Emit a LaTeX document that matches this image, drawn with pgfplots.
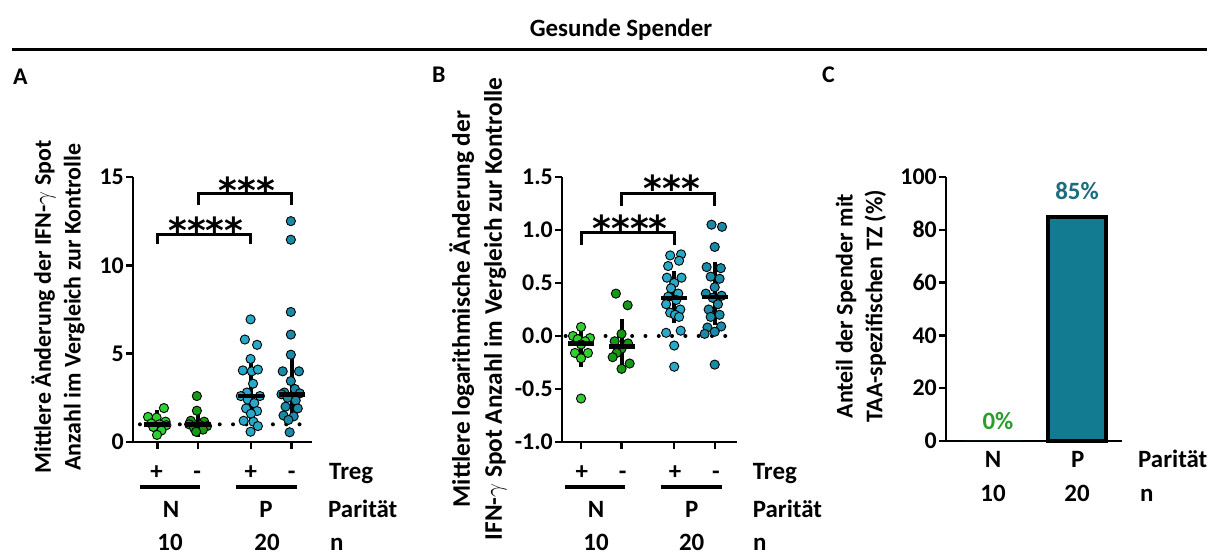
\documentclass[border=0pt]{standalone}
\usepackage{pgfplots}
\pgfplotsset{compat=1.18}
\usepackage{fontspec}
\setmainfont{Carlito}
\newfontfamily\djv{DejaVu Sans}
\definecolor{gA}{HTML}{2ECF2E}
\definecolor{gB}{HTML}{159A15}
\definecolor{tA}{HTML}{2AA8C7}
\definecolor{tB}{HTML}{1A8AA7}
\definecolor{barC}{HTML}{137B91}
\definecolor{txtC}{HTML}{1A6D7F}
\definecolor{txtG}{HTML}{2A9E2A}
\newcommand{\F}{\bfseries\fontsize{25}{30}\selectfont}
\newcommand{\Ft}{\bfseries\fontsize{24}{30}\selectfont}
\newcommand{\Fy}{\bfseries\fontsize{24}{30}\selectfont}
\newcommand{\Fyb}{\bfseries\fontsize{25.4}{32}\selectfont}
\newcommand{\Fs}{\djv\bfseries\fontsize{36}{36}\selectfont}
\pgfplotsset{
  pan/.style={
    scale only axis, anchor=south west, clip=false,
    axis x line*=bottom, axis y line*=left,
    axis line style={line width=2.6bp, black},
    every tick/.style={line width=2.4bp, black},
    major tick length=7bp, tick align=outside,
    tick label style={font=\Ft},
    /pgf/number format/assume math mode=true,
    yticklabel style={inner sep=0pt, xshift=-2bp},
    xticklabels={},
  },
  pnt/.style={only marks, mark=*, mark size=4.6bp, mark options={draw=black, line width=0.9bp, fill=#1}},
  med/.style={only marks, mark=-, mark size=13bp, mark options={line width=4.5bp, black},
    error bars/.cd, y dir=both, y explicit,
    error bar style={line width=4bp, black},
    error mark=-, error mark options={line width=4bp, mark size=8bp, black}},
  brk/.style={no marks, sharp plot, black, line width=3bp, line join=miter},
  dotl/.style={no marks, sharp plot, black, line width=4bp, line cap=round, dash pattern=on 0bp off 13.3bp},
}
\begin{document}
\begin{tikzpicture}[x=1bp,y=1bp,font=\F]
\useasboundingbox (0,0) rectangle (1217,556);
% header
\node[anchor=base] at (621,519) {Gesunde Spender};
\draw[line width=3bp] (12,506) -- (1207,506);
\node[anchor=base west, inner sep=0pt, font=\Ft] at (13,471) {A};
\node[anchor=base west, inner sep=0pt, font=\Ft] at (432,473) {B};
\node[anchor=base west, inner sep=0pt, font=\Ft] at (822,473) {C};

% ---------------- Panel A
\begin{axis}[pan, at={(133bp,114bp)}, width=179bp, height=265bp,
  xmin=0.4, xmax=4.8, ymin=0, ymax=15, ytick={0,5,10,15}, xtick={1,2,3.3,4.3}]
\addplot[dotl] coordinates {(0.57,1) (4.58,1)};
\addplot[pnt=gA] coordinates {(1.16,1.92) (0.77,1.42) (0.98,1.38) (1.2,1.15) (0.85,1.05) (1.05,1.0) (1.22,0.95) (0.9,0.85) (1.1,0.65) (0.99,0.4)};
\addplot[pnt=gB] coordinates {(1.97,2.6) (1.97,1.77) (1.82,1.2) (2.15,1.15) (1.78,1.0) (2.05,0.95) (2.22,0.9) (1.9,0.8) (2.12,0.7) (1.95,0.58)};
\addplot[pnt=tA] coordinates {(3.29,6.94) (3.15,5.8) (3.45,5.5) (3.29,4.7) (3.1,4.05) (3.32,4.0) (3.47,4.1) (3.35,3.3) (3.2,2.8) (3.05,2.6) (3.52,2.6) (3.22,2.4) (3.38,2.2) (3.18,1.9) (3.45,1.75) (3.3,1.6) (3.12,1.2) (3.36,1.15) (3.47,0.9) (3.29,0.58)};
\addplot[pnt=tB] coordinates {(4.28,12.5) (4.28,11.45) (4.28,7.36) (4.28,6.08) (4.28,4.94) (4.08,4.0) (4.48,4.0) (4.28,3.45) (4.38,3.0) (4.12,2.8) (4.05,2.7) (4.5,2.75) (4.2,2.5) (4.4,2.35) (4.15,2.0) (4.45,1.9) (4.1,1.5) (4.35,1.45) (4.22,1.25) (4.25,0.55)};
\addplot[med] coordinates {(1,1.0) += (0,0.35) -= (0,0.25) (2,1.0) += (0,0.3) -= (0,0.25) (3.3,2.6) += (0,1.5) -= (0,0.95) (4.3,2.7) += (0,2.0) -= (0,0.85)};
\addplot[brk] coordinates {(1,11.2) (1,11.77) (3.3,11.77) (3.3,11.2)};
\addplot[brk] coordinates {(2,13.41) (2,14.07) (4.3,14.07) (4.3,13.41)};
\node[font=\Fs, anchor=north, inner sep=0pt] at (axis cs:2.19,12.75) {****};
\node[font=\Fs, anchor=north, inner sep=0pt] at (axis cs:3.2,15.0) {***};
\end{axis}
\node[rotate=90, align=center, font=\Fy] at (58,249) {Mittlere Änderung der IFN-$\gamma$ Spot\\Anzahl im Vergleich zur Kontrolle};
\node[anchor=base] at (156.7,76) {+};
\node[anchor=base] at (197.3,76) {-};
\node[anchor=base] at (250.7,76) {+};
\node[anchor=base] at (291.7,76) {-};
\node[anchor=base west, inner sep=0pt] at (329,76) {Treg};
\draw[line width=3.5bp] (140,69) -- (200,69);
\draw[line width=3.5bp] (236,69) -- (297,69);
\node[anchor=base] at (171,38) {N};
\node[anchor=base] at (266,38) {P};
\node[anchor=base west, inner sep=0pt] at (328,38) {Parität};
\node[anchor=base, inner sep=0pt] at (170,5) {10};
\node[anchor=base, inner sep=0pt] at (267,5) {20};
\node[anchor=base west, inner sep=0pt] at (330,5) {n};

% ---------------- Panel B
\begin{axis}[pan, at={(562bp,114bp)}, width=175bp, height=265bp,
  xmin=0.53, xmax=4.85, ymin=-1, ymax=1.5, ytick={-1,-0.5,0,0.5,1,1.5}, xtick={1,2,3.3,4.3},
  yticklabel style={/pgf/number format/.cd, fixed, fixed zerofill, precision=1}]
\addplot[dotl] coordinates {(0.62,0) (4.72,0)};
\addplot[pnt=gA] coordinates {(1.0,0.085) (0.8,0.0) (1.22,-0.02) (0.92,-0.03) (1.1,-0.05) (1.0,-0.08) (0.85,-0.16) (1.17,-0.16) (1.0,-0.21) (1.0,-0.59)};
\addplot[pnt=gB] coordinates {(1.86,0.40) (2.15,0.29) (2.0,0.02) (1.83,-0.05) (2.16,-0.07) (2.0,-0.12) (1.88,-0.16) (1.78,-0.2) (2.2,-0.26) (2.0,-0.31)};
\addplot[pnt=tA] coordinates {(3.2,0.76) (3.47,0.77) (3.42,0.71) (3.15,0.66) (3.12,0.55) (3.48,0.55) (3.3,0.5) (3.22,0.45) (3.4,0.4) (3.15,0.37) (3.35,0.34) (3.1,0.3) (3.45,0.25) (3.2,0.22) (3.32,0.2) (3.42,0.18) (3.46,0.05) (3.1,0.03) (3.3,-0.09) (3.3,-0.29)};
\addplot[pnt=tB] coordinates {(4.22,1.05) (4.48,1.03) (4.3,0.84) (4.1,0.65) (4.45,0.64) (4.2,0.56) (4.42,0.54) (4.3,0.46) (4.08,0.4) (4.47,0.38) (4.25,0.36) (4.38,0.3) (4.15,0.25) (4.42,0.2) (4.2,0.18) (4.46,0.09) (4.12,0.08) (4.3,0.04) (4.05,0.02) (4.3,-0.27)};
\addplot[med] coordinates {(1,-0.07) += (0,0.06) -= (0,0.15) (2,-0.1) += (0,0.185) -= (0,0.12) (3.3,0.36) += (0,0.18) -= (0,0.16) (4.3,0.37) += (0,0.25) -= (0,0.19)};
\addplot[brk] coordinates {(1,0.856) (1,0.981) (3.3,0.981) (3.3,0.856)};
\addplot[brk] coordinates {(2,1.224) (2,1.343) (4.3,1.343) (4.3,1.224)};
\node[font=\Fs, anchor=north, inner sep=0pt] at (axis cs:2.21,1.148) {****};
\node[font=\Fs, anchor=north, inner sep=0pt] at (axis cs:3.24,1.525) {***};
\end{axis}
\node[rotate=90, align=center, font=\Fyb] at (478,247) {Mittlere logarithmische Änderung der\\IFN-$\gamma$ Spot Anzahl im Vergleich zur Kontrolle};
\node[anchor=base] at (581.7,76) {+};
\node[anchor=base] at (622.7,76) {-};
\node[anchor=base] at (675,76) {+};
\node[anchor=base] at (716,76) {-};
\node[anchor=base west, inner sep=0pt] at (752.7,76) {Treg};
\draw[line width=3.5bp] (565,69) -- (625,69);
\draw[line width=3.5bp] (660.7,69) -- (721.7,69);
\node[anchor=base] at (596,38) {N};
\node[anchor=base] at (691.7,38) {P};
\node[anchor=base west, inner sep=0pt] at (752.7,38) {Parität};
\node[anchor=base, inner sep=0pt] at (596,5) {10};
\node[anchor=base, inner sep=0pt] at (691.7,5) {20};
\node[anchor=base west, inner sep=0pt] at (753,5) {n};

% ---------------- Panel C
\begin{axis}[pan, at={(946bp,115bp)}, width=176bp, height=264bp,
  xmin=-0.56, xmax=1.54, ymin=0, ymax=100, ytick={0,20,40,60,80,100}, xtick=\empty]
\addplot[ybar, bar shift=0pt, bar width=0.69, fill=barC, draw=none] coordinates {(0,0)};
\addplot[ybar, bar shift=0pt, bar width=0.69, fill=barC, draw=black, line width=4bp] coordinates {(1,85)};
\end{axis}
\node[rotate=90, align=center, font=\Fy] at (861,250) {Anteil der Spender mit\\TAA-spezifischen TZ (\%)};
\node[anchor=base, text=txtC] at (1077,356) {85\%};
\node[anchor=base, text=txtG] at (998,126) {0\%};
\node[anchor=base] at (993,88) {N};
\node[anchor=base] at (1077.7,88) {P};
\node[anchor=base west, inner sep=0pt] at (1138,88) {Parität};
\node[anchor=base] at (993,54) {10};
\node[anchor=base] at (1077,54) {20};
\node[anchor=base west, inner sep=0pt] at (1140,54) {n};
\end{tikzpicture}
\end{document}
